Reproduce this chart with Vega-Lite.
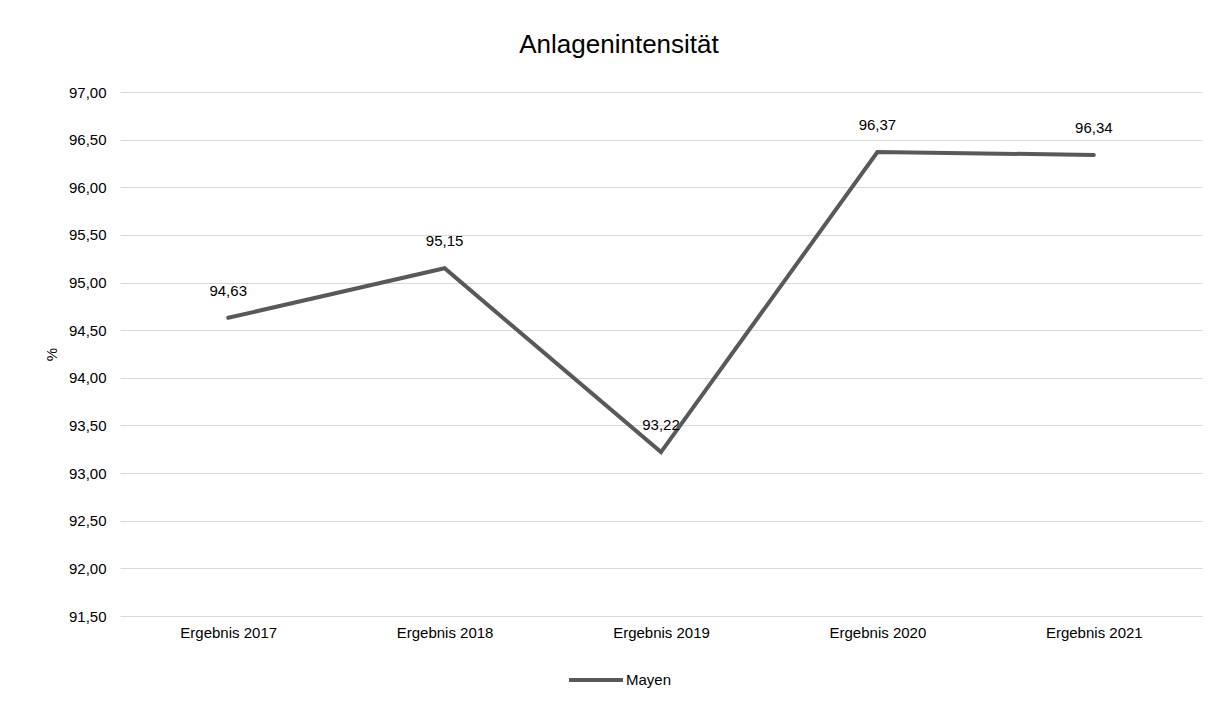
{
  "$schema": "https://vega.github.io/schema/vega-lite/v6.json",
  "width": 1082,
  "height": 524,
  "autosize": {"type": "none"},
  "padding": {"left": 120, "top": 92, "right": 27, "bottom": 90},
  "background": "white",
  "config": {
    "locale": {"number": {"decimal": ",", "thousands": ".", "grouping": [3], "currency": ["", " €"]}},
    "font": "Liberation Sans",
    "view": {"stroke": null}
  },
  "title": {
    "text": "Anlagenintensität",
    "fontSize": 26,
    "fontWeight": "normal",
    "font": "Liberation Sans",
    "color": "#000000",
    "offset": 27,
    "dx": -42
  },
  "data": {
    "values": [
      {"jahr": "Ergebnis 2017", "wert": 94.63, "serie": "Mayen"},
      {"jahr": "Ergebnis 2018", "wert": 95.15, "serie": "Mayen"},
      {"jahr": "Ergebnis 2019", "wert": 93.22, "serie": "Mayen"},
      {"jahr": "Ergebnis 2020", "wert": 96.37, "serie": "Mayen"},
      {"jahr": "Ergebnis 2021", "wert": 96.34, "serie": "Mayen"}
    ]
  },
  "encoding": {
    "x": {
      "field": "jahr",
      "type": "nominal",
      "sort": null,
      "axis": {
        "title": null,
        "labelAngle": 0,
        "domain": false,
        "ticks": false,
        "labelFontSize": 15,
        "labelColor": "#000000",
        "labelPadding": 9
      }
    },
    "y": {
      "field": "wert",
      "type": "quantitative",
      "scale": {"domain": [91.5, 97], "nice": false, "zero": false},
      "axis": {
        "title": "%",
        "titleFontSize": 15,
        "titleFontWeight": "normal",
        "titleColor": "#000000",
        "titlePadding": 9,
        "values": [91.5, 92, 92.5, 93, 93.5, 94, 94.5, 95, 95.5, 96, 96.5, 97],
        "format": ".2f",
        "domain": false,
        "ticks": false,
        "labelFontSize": 15,
        "labelColor": "#000000",
        "labelPadding": 14,
        "gridColor": "#d9d9d9",
        "gridWidth": 1.2
      }
    }
  },
  "layer": [
    {
      "mark": {"type": "line", "strokeWidth": 4, "strokeCap": "round"},
      "encoding": {
        "color": {
          "field": "serie",
          "type": "nominal",
          "scale": {"range": ["#595959"]},
          "legend": {
            "title": null,
            "orient": "none",
            "legendX": 447,
            "legendY": 559,
            "symbolType": "stroke",
            "symbolStrokeWidth": 4,
            "symbolSize": 2916,
            "labelFontSize": 15,
            "labelColor": "#000000",
            "labelOffset": 1
          }
        }
      }
    },
    {
      "mark": {"type": "text", "dy": -27, "fontSize": 15, "color": "#000000"},
      "encoding": {
        "text": {"field": "wert", "type": "quantitative", "format": ".2f"}
      }
    }
  ]
}
